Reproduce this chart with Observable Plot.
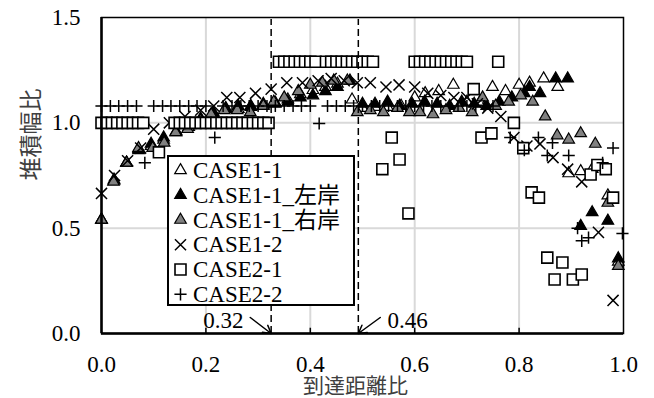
<!DOCTYPE html>
<html><head><meta charset="utf-8">
<script src="https://cdn.jsdelivr.net/npm/d3@7"></script>
<script src="https://cdn.jsdelivr.net/npm/@observablehq/plot@0.6"></script>
<style>
html,body{margin:0;padding:0;background:#fff;}
#wrap{position:relative;width:654px;height:398px;overflow:hidden;}
#legend{position:absolute;left:167px;top:155px;}
</style></head><body><div id="wrap"></div>
<script>
// ---------- data ----------
const xTicks = [0, 0.2, 0.4, 0.6, 0.8, 1.0];
const yTicks = [0, 0.5, 1.0, 1.5];
const xGrid = [0.2, 0.4, 0.6, 0.8];
const yGrid = [0.5, 1.0];
const seriesNames = ["CASE1-1", "CASE1-1_左岸", "CASE1-1_右岸", "CASE1-2", "CASE2-1", "CASE2-2"];
const xTitle = "到達距離比";
const yTitle = "堆積幅比";

// CASE1-1 (open triangles)
const case11X = [0,0.024,0.048,0.071,0.095,0.119,0.143,0.167,0.19,0.214,0.238,0.262,0.286,0.31,0.333,0.357,0.381,0.405,0.429,0.452,0.48,0.5,0.524,0.548,0.574,0.6,0.62,0.646,0.674,0.7,0.725,0.749,0.774,0.8,0.82,0.847,0.874,0.895,0.918,0.94,0.97,0.99];
const case11Y = [0.54,0.725,0.81,0.875,0.89,0.92,0.955,0.98,1.015,1.045,1.065,1.065,1.075,1.085,1.095,1.11,1.135,1.155,1.17,1.185,1.11,1.07,1.075,1.075,1.08,1.12,1.14,1.15,1.18,1.1,1.1,1.17,1.15,1.18,1.19,1.21,1.17,0.76,0.77,0.78,0.655,0.34];
// CASE1-1_左岸 (black triangles)
const case11LX = [0,0.024,0.048,0.071,0.095,0.119,0.143,0.167,0.19,0.214,0.238,0.262,0.286,0.31,0.333,0.357,0.381,0.405,0.429,0.452,0.476,0.5,0.524,0.548,0.571,0.595,0.619,0.643,0.667,0.69,0.714,0.738,0.762,0.786,0.81,0.82,0.84,0.87,0.893,0.918,0.94,0.97,0.99];
const case11LY = [0.54,0.73,0.81,0.87,0.9,0.93,0.96,0.99,1.02,1.05,1.07,1.08,1.08,1.09,1.09,1.1,1.12,1.13,1.15,1.17,1.2,1.09,1.09,1.1,1.08,1.09,1.1,1.09,1.08,1.1,1.09,1.08,1.1,1.12,1.14,1.17,1.14,1.21,1.21,0.51,0.575,0.535,0.356];
// CASE1-1_右岸 (gray triangles)
const case11RX = [0,0.023,0.048,0.071,0.098,0.12,0.142,0.165,0.19,0.21,0.235,0.26,0.285,0.31,0.33,0.35,0.377,0.4,0.423,0.445,0.471,0.49,0.515,0.54,0.567,0.59,0.61,0.635,0.66,0.685,0.71,0.73,0.755,0.78,0.803,0.826,0.85,0.873,0.895,0.918,0.946,0.97,0.99];
const case11RY = [0.54,0.72,0.81,0.88,0.88,0.905,0.955,0.97,1.01,1.04,1.06,1.06,1.05,1.08,1.1,1.12,1.15,1.18,1.19,1.2,1.2,1.05,1.06,1.05,1.07,1.05,1.05,1.04,1.06,1.07,1.05,1.12,1.08,1.1,1.13,1.1,1.03,0.94,0.92,0.95,0.9,0.62,0.32];
// CASE1-2 (x marks)
const case12X = [0,0.025,0.05,0.075,0.1,0.13,0.16,0.19,0.215,0.24,0.265,0.295,0.325,0.355,0.385,0.415,0.44,0.465,0.49,0.515,0.545,0.57,0.6,0.625,0.65,0.675,0.7,0.72,0.74,0.765,0.79,0.815,0.84,0.865,0.893,0.92,0.952,0.98];
const case12Y = [0.665,0.75,0.82,0.88,0.97,1.0,1.03,1.06,1.08,1.12,1.12,1.14,1.16,1.19,1.19,1.2,1.21,1.2,1.19,1.19,1.17,1.18,1.17,1.14,1.13,1.12,1.12,1.09,1.07,1.03,0.93,0.89,0.9,0.835,0.78,0.72,0.48,0.157];
// CASE2-1 (squares)
const case21X = [0,0.01,0.02,0.03,0.04,0.05,0.06,0.07,0.08,0.11,0.14,0.15,0.16,0.17,0.18,0.19,0.2,0.21,0.22,0.23,0.24,0.25,0.26,0.27,0.28,0.29,0.3,0.31,0.32,
  0.34,0.35,0.36,0.37,0.38,0.39,0.4,0.41,0.43,0.44,0.45,0.46,0.47,0.48,0.49,0.5,0.51,0.52,
  0.538,0.556,0.571,0.588,
  0.6,0.61,0.62,0.63,0.64,0.65,0.66,0.67,0.68,0.69,0.7,
  0.713,0.728,0.747,0.76,0.79,0.808,0.824,0.838,0.854,0.868,0.883,0.903,0.92,0.937,0.95,0.966,0.98];
const case21Y = [1.0,1.0,1.0,1.0,1.0,1.0,1.0,1.0,1.0,0.86,1.0,1.0,1.0,1.0,1.0,1.0,1.0,1.0,1.0,1.0,1.0,1.0,1.0,1.0,1.0,1.0,1.0,1.0,1.0,
  1.29,1.29,1.29,1.29,1.29,1.29,1.29,1.29,1.29,1.29,1.29,1.29,1.29,1.29,1.29,1.29,1.29,1.29,
  0.78,0.93,0.826,0.57,
  1.29,1.29,1.29,1.29,1.29,1.29,1.29,1.29,1.29,1.29,1.29,
  1.16,0.93,0.95,1.29,1.0,0.88,0.67,0.645,0.36,0.256,0.337,0.256,0.28,0.755,0.8,0.78,0.645];
// CASE2-2 (plus marks)
const case22X = [0,0.017,0.033,0.05,0.067,0.083,0.1,0.117,0.133,0.15,0.167,0.183,0.2,0.217,0.233,0.25,0.267,0.283,0.3,0.317,0.333,0.35,0.367,0.383,0.4,0.417,0.433,0.45,0.467,0.483,0.5,0.517,0.533,0.55,0.567,0.583,0.6,0.617,0.633,0.65,0.667,0.683,0.7,0.717,0.733,0.75,
  0.783,0.81,0.837,0.854,0.864,0.895,0.912,0.92,0.933,0.96,0.98,0.998];
const case22Y = [1.08,1.08,1.08,1.08,1.08,0.81,1.08,1.08,1.08,1.08,1.08,1.08,1.08,0.93,1.08,1.08,1.08,1.08,1.08,1.08,1.08,1.08,1.08,1.08,1.08,0.997,1.08,1.08,1.08,1.08,1.08,1.08,1.08,1.08,1.08,1.08,1.08,1.08,1.08,1.08,1.08,1.08,1.08,1.08,1.08,1.08,
  0.93,0.87,0.93,0.845,0.905,0.845,0.5,0.44,0.455,0.81,0.88,0.475];

// reference lines / annotations
const refLineX = [0.325, 0.492];
const refLabels = ["0.32", "0.46"];
const arrowStartX = [0.285, 0.534];
const arrowStartY = [0.076, 0.076];
const refLabelX = [0.272, 0.548];
const refLabelY = [0.062, 0.062];

// ---------- build ----------
const pts = (xs, ys) => xs.map((x, i) => ({x, y: ys[i]}));
const seriesData = [
  pts(case11X, case11Y), pts(case11LX, case11LY), pts(case11RX, case11RY),
  pts(case12X, case12Y), pts(case21X, case21Y), pts(case22X, case22Y)
];
const styles = [
  {symbol: "triangle", r: 4.3, fill: "white", sw: 1.2},
  {symbol: "triangle", r: 4.3, fill: "black", sw: 1.2},
  {symbol: "triangle", r: 4.3, fill: "#808080", sw: 1.2},
  {symbol: "times", r: 5.1, fill: "none", sw: 1.5},
  {symbol: "square", r: 6.2, fill: "white", sw: 1.6},
  {symbol: "plus", r: 4.0, fill: "none", sw: 1.5}
];
const arrows = refLineX.map((x, i) => ({x1: arrowStartX[i], y1: arrowStartY[i], x2: x, y2: 0}));
const labels = refLabels.map((t, i) => ({x: refLabelX[i], y: refLabelY[i], t}));

const FONT = "'Liberation Serif', 'Times New Roman', serif, 'Noto Sans CJK JP'";

const marks = [
  Plot.ruleX(xGrid, {stroke: "#d9d9d9", strokeWidth: 2}),
  Plot.ruleY(yGrid, {stroke: "#d9d9d9", strokeWidth: 2}),
  Plot.ruleX(xGrid, {y1: 0, y2: 0.025, stroke: "black", strokeWidth: 1.5}),
];
seriesData.forEach((d, i) => {
  const s = styles[i];
  marks.push(Plot.dot(d, {x: "x", y: "y", symbol: s.symbol, r: s.r, fill: s.fill, stroke: "black", strokeWidth: s.sw}));
});
marks.push(
  Plot.ruleX(refLineX, {y1: 0, y2: 1.49, stroke: "black", strokeWidth: 1.5, strokeDasharray: "7,4"}),
  Plot.arrow(arrows, {x1: "x1", y1: "y1", x2: "x2", y2: "y2", stroke: "black", strokeWidth: 1.5, headLength: 9}),
  Plot.text(labels.slice(0, 1), {x: "x", y: "y", text: "t", textAnchor: "end", fontSize: 23, fill: "black"}),
  Plot.text(labels.slice(1), {x: "x", y: "y", text: "t", textAnchor: "start", fontSize: 23, fill: "black"}),
  Plot.frame({stroke: "black", strokeWidth: 1.5}),
  Plot.ruleX([0], {stroke: "black", strokeWidth: 2.5}),
  Plot.ruleY([0], {stroke: "black", strokeWidth: 2.5}),
  Plot.axisX({ticks: xTicks, tickFormat: d => d.toFixed(1), tickSize: 0, tickPadding: 22, label: null, fontSize: 23}),
  Plot.axisY({ticks: yTicks, tickFormat: d => d.toFixed(1), tickSize: 0, tickPadding: 21, label: null, fontSize: 23}),
  Plot.text([xTitle], {frameAnchor: "bottom", dy: 45, dx: -7, lineAnchor: "top", fontSize: 21, fill: "#404040"}),
  Plot.text([yTitle], {frameAnchor: "left", dx: -70, dy: 5, rotate: -90, fontSize: 23, fill: "#404040"})
);

const chart = Plot.plot({
  width: 654, height: 398,
  marginLeft: 101, marginRight: 31, marginTop: 17, marginBottom: 65,
  x: {domain: [0, 1]},
  y: {domain: [0, 1.5]},
  style: {fontFamily: FONT, fontSize: "23px", background: "white", color: "black"},
  marks
});
const wrap = document.getElementById("wrap");
wrap.appendChild(chart);

// ---------- legend (overlay) ----------
const symType = {triangle: d3.symbolTriangle, times: d3.symbolTimes, square: d3.symbolSquare, plus: d3.symbolPlus};
const LW = 188, LH = 151;
const leg = d3.select(wrap).append("svg").attr("id", "legend").attr("width", LW).attr("height", LH)
  .style("font-family", FONT).style("font-size", "23px");
leg.append("rect").attr("x", 1).attr("y", 1).attr("width", LW - 2).attr("height", LH - 2)
  .attr("fill", "white").attr("stroke", "black").attr("stroke-width", 2);
seriesNames.forEach((name, i) => {
  const s = styles[i];
  const cy = 15.3 + 24.8 * i;
  leg.append("path")
    .attr("d", d3.symbol(symType[s.symbol], s.r * s.r * Math.PI)())
    .attr("transform", `translate(13.5,${cy})`)
    .attr("fill", s.fill).attr("stroke", "black").attr("stroke-width", s.sw);
  leg.append("text").attr("x", 26).attr("y", cy + 7.6).attr("fill", "black").text(name);
});
</script></body></html>
